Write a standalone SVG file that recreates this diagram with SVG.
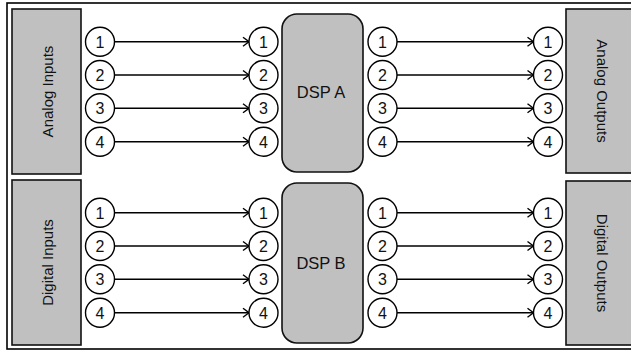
<svg xmlns="http://www.w3.org/2000/svg" width="631" height="350" viewBox="0 0 631 350">
<defs>
<style>
.frame{fill:#fff;stroke:#000;stroke-width:1.6}
.box{fill:#c0c0c0;stroke:#111;stroke-width:1.6}
.dsp{fill:#c0c0c0;stroke:#111;stroke-width:1.6}
.c{fill:#fff;stroke:#000;stroke-width:1.4}
.n{font-family:"Liberation Sans",Arial,sans-serif;font-size:16px;text-anchor:middle;fill:#111}
.lbl{font-family:"Liberation Sans",Arial,sans-serif;font-size:15px;text-anchor:middle;fill:#111}
.dl{font-family:"Liberation Sans",Arial,sans-serif;font-size:16.5px;text-anchor:middle;fill:#111}
.ln{stroke:#000;stroke-width:1.4;fill:none;marker-end:url(#ah)}
</style>
<marker id="ah" markerUnits="userSpaceOnUse" markerWidth="10" markerHeight="12" viewBox="0 0 10 12" refX="9" refY="6" orient="auto">
<path d="M3,1.5 L9,6 L3,10.5" fill="none" stroke="#000" stroke-width="1.4"/>
</marker>
<g id="row">
<circle class="c" cx="100" cy="0" r="14.5"/>
<circle class="c" cx="263.5" cy="0" r="14.5"/>
<circle class="c" cx="382.5" cy="0" r="14.5"/>
<circle class="c" cx="548" cy="0" r="14.5"/>
</g>
</defs>
<rect class="frame" x="7" y="3" width="630" height="346"/>

<g id="analog-inputs">
<rect class="box" x="12" y="9" width="69" height="165"/>
<text class="lbl" transform="translate(52.5,91.5) rotate(-90)">Analog Inputs</text>
</g>
<g id="digital-inputs">
<rect class="box" x="12" y="180" width="69" height="165"/>
<text class="lbl" transform="translate(52.5,262.5) rotate(-90)">Digital Inputs</text>
</g>
<g id="analog-outputs">
<rect class="box" x="566" y="9" width="70" height="164"/>
<text class="lbl" transform="translate(596.5,91) rotate(90)">Analog Outputs</text>
</g>
<g id="digital-outputs">
<rect class="box" x="566" y="181" width="70" height="164"/>
<text class="lbl" transform="translate(596.5,263) rotate(90)">Digital Outputs</text>
</g>
<g id="dsp-a">
<rect class="dsp" x="282" y="14" width="81" height="158" rx="15" ry="15"/>
<text class="dl" x="321" y="98">DSP A</text>
</g>
<g id="dsp-b">
<rect class="dsp" x="282" y="183" width="81" height="160" rx="15" ry="15"/>
<text class="dl" x="321" y="269">DSP B</text>
</g>

<g id="connectors">
<path class="ln" d="M114.5,41.7H249"/>
<path class="ln" d="M114.5,75H249"/>
<path class="ln" d="M114.5,108.3H249"/>
<path class="ln" d="M114.5,141.7H249"/>
<path class="ln" d="M397,41.7H533.5"/>
<path class="ln" d="M397,75H533.5"/>
<path class="ln" d="M397,108.3H533.5"/>
<path class="ln" d="M397,141.7H533.5"/>
<path class="ln" d="M114.5,212.7H249"/>
<path class="ln" d="M114.5,246H249"/>
<path class="ln" d="M114.5,279.3H249"/>
<path class="ln" d="M114.5,312.7H249"/>
<path class="ln" d="M397,212.7H533.5"/>
<path class="ln" d="M397,246H533.5"/>
<path class="ln" d="M397,279.3H533.5"/>
<path class="ln" d="M397,312.7H533.5"/>
</g>

<g id="ports-a1"><use href="#row" y="41.7"/>
<text class="n" x="100" y="47.5">1</text><text class="n" x="263.5" y="47.5">1</text><text class="n" x="382.5" y="47.5">1</text><text class="n" x="548" y="47.5">1</text></g>
<g id="ports-a2"><use href="#row" y="75"/>
<text class="n" x="100" y="80.8">2</text><text class="n" x="263.5" y="80.8">2</text><text class="n" x="382.5" y="80.8">2</text><text class="n" x="548" y="80.8">2</text></g>
<g id="ports-a3"><use href="#row" y="108.3"/>
<text class="n" x="100" y="114.1">3</text><text class="n" x="263.5" y="114.1">3</text><text class="n" x="382.5" y="114.1">3</text><text class="n" x="548" y="114.1">3</text></g>
<g id="ports-a4"><use href="#row" y="141.7"/>
<text class="n" x="100" y="147.5">4</text><text class="n" x="263.5" y="147.5">4</text><text class="n" x="382.5" y="147.5">4</text><text class="n" x="548" y="147.5">4</text></g>
<g id="ports-b1"><use href="#row" y="212.7"/>
<text class="n" x="100" y="218.5">1</text><text class="n" x="263.5" y="218.5">1</text><text class="n" x="382.5" y="218.5">1</text><text class="n" x="548" y="218.5">1</text></g>
<g id="ports-b2"><use href="#row" y="246"/>
<text class="n" x="100" y="251.8">2</text><text class="n" x="263.5" y="251.8">2</text><text class="n" x="382.5" y="251.8">2</text><text class="n" x="548" y="251.8">2</text></g>
<g id="ports-b3"><use href="#row" y="279.3"/>
<text class="n" x="100" y="285.1">3</text><text class="n" x="263.5" y="285.1">3</text><text class="n" x="382.5" y="285.1">3</text><text class="n" x="548" y="285.1">3</text></g>
<g id="ports-b4"><use href="#row" y="312.7"/>
<text class="n" x="100" y="318.5">4</text><text class="n" x="263.5" y="318.5">4</text><text class="n" x="382.5" y="318.5">4</text><text class="n" x="548" y="318.5">4</text></g>
</svg>
